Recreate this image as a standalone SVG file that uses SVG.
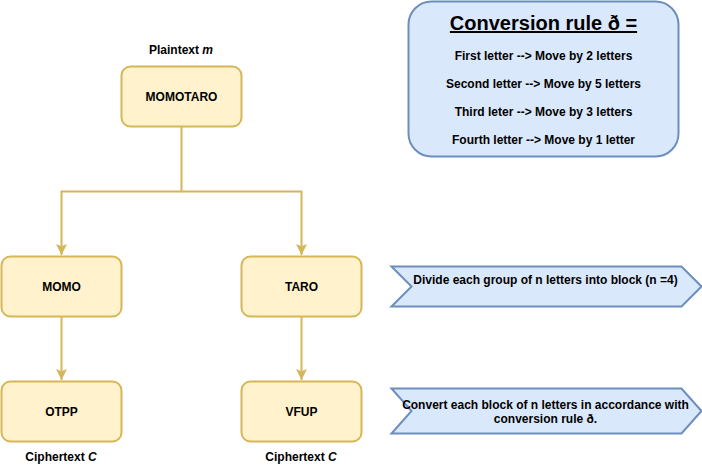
<svg xmlns="http://www.w3.org/2000/svg" width="702" height="468" viewBox="0 0 702 468">
<defs>
<style>
text{font-family:"Liberation Sans",Arial,sans-serif;font-weight:bold;font-size:12px;fill:#000;text-anchor:middle}
text.title{font-size:20px;text-decoration:underline}
.node{fill:#fff2cc;stroke:#d6b656;stroke-width:2}
.blue{fill:#dae8fc;stroke:#6c8ebf;stroke-width:2}
.edge{fill:none;stroke:#d6b656;stroke-width:2}
</style>
<marker id="arr" viewBox="0 0 10 10" refX="10" refY="5" markerWidth="5.5" markerHeight="5.5" orient="auto" markerUnits="strokeWidth">
<path d="M0,0 L10,5 L0,10 L2,5 Z" fill="#d6b656" stroke="none"/>
</marker>
</defs>
<rect width="702" height="468" fill="#fff"/>
<g id="connectors">
<path class="edge" d="M181.5,126.5 V191.5 H61.5 V255" marker-end="url(#arr)"/>
<path class="edge" d="M181.5,191.5 H301.5 V255" marker-end="url(#arr)"/>
<path class="edge" d="M61.5,316.5 V380" marker-end="url(#arr)"/>
<path class="edge" d="M301.5,316.5 V380" marker-end="url(#arr)"/>
</g>
<g id="label-plaintext"><text x="181" y="54">Plaintext <tspan font-style="italic">m</tspan></text></g>
<g id="node-momotaro"><rect class="node" x="121.5" y="66.5" width="120" height="60" rx="9"/><text x="181.5" y="101">MOMOTARO</text></g>
<g id="node-momo"><rect class="node" x="1.5" y="256.5" width="120" height="60" rx="9"/><text x="61.5" y="291">MOMO</text></g>
<g id="node-taro"><rect class="node" x="241.5" y="256.5" width="120" height="60" rx="9"/><text x="301.5" y="291">TARO</text></g>
<g id="node-otpp"><rect class="node" x="1.5" y="381.5" width="120" height="60" rx="9"/><text x="61.5" y="416">OTPP</text></g>
<g id="node-vfup"><rect class="node" x="241.5" y="381.5" width="120" height="60" rx="9"/><text x="301.5" y="416">VFUP</text></g>
<g id="label-cipher1"><text x="61" y="461">Ciphertext <tspan font-style="italic">C</tspan></text></g>
<g id="label-cipher2"><text x="301" y="461">Ciphertext <tspan font-style="italic">C</tspan></text></g>
<g id="rule-box">
<rect class="blue" x="408.5" y="1.5" width="270" height="155" rx="23"/>
<text class="title" x="543.5" y="30">Conversion rule ð =</text>
<text x="543.5" y="60">First letter --&gt; Move by 2 letters</text>
<text x="543.5" y="88">Second letter --&gt; Move by 5 letters</text>
<text x="543.5" y="116">Third leter --&gt; Move by 3 letters</text>
<text x="543.5" y="144">Fourth letter --&gt; Move by 1 letter</text>
</g>
<g id="step-divide">
<polygon class="blue" points="391.5,266.5 681.5,266.5 701.5,286.5 681.5,306.5 391.5,306.5 411.5,286.5"/>
<text x="545.5" y="284">Divide each group of n letters into block (n =4)</text>
</g>
<g id="step-convert">
<polygon class="blue" points="391.5,388.5 681.5,388.5 701.5,411 681.5,433.5 391.5,433.5 411.5,411"/>
<text x="545.5" y="409">Convert each block of n letters in accordance with</text>
<text x="545.5" y="423">conversion rule ð.</text>
</g>
</svg>
